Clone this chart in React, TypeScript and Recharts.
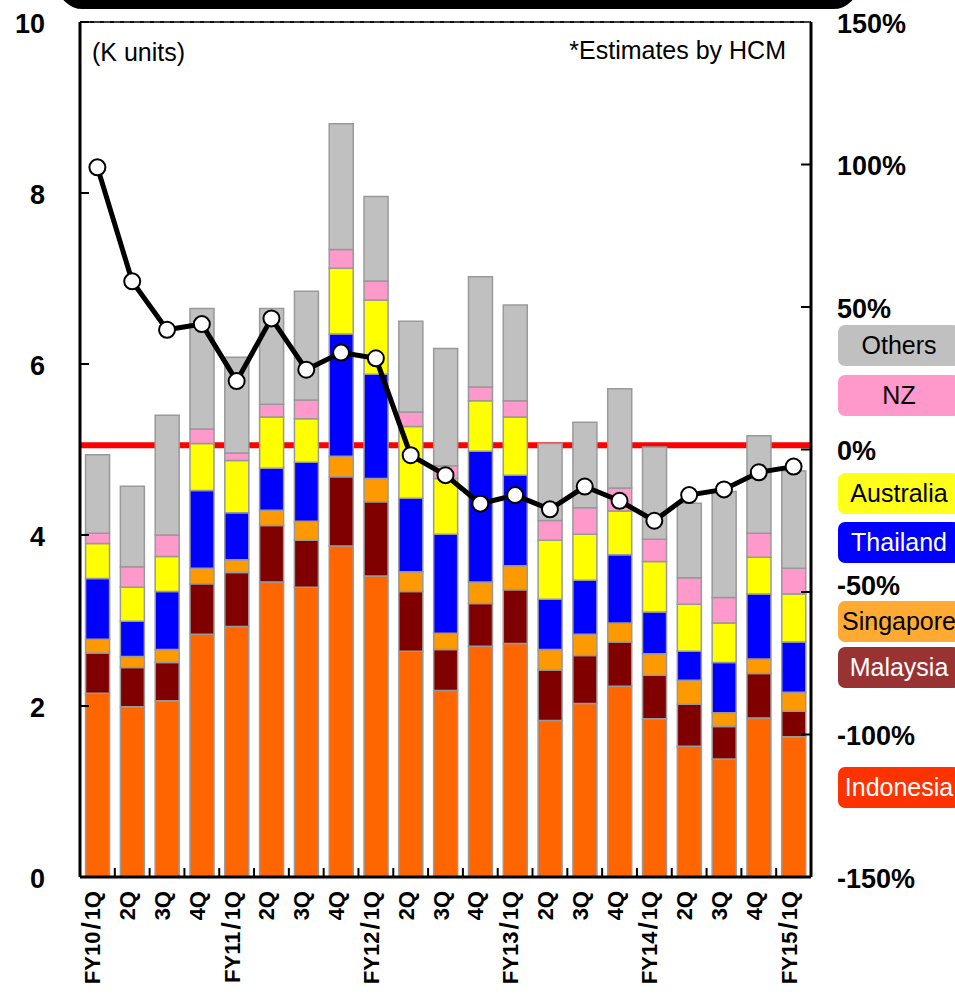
import {
  ComposedChart,
  Bar,
  Line,
  XAxis,
  YAxis,
  CartesianGrid,
  ReferenceLine,
} from 'recharts';

const quarters = [
  'FY10/1Q', '2Q', '3Q', '4Q',
  'FY11/1Q', '2Q', '3Q', '4Q',
  'FY12/1Q', '2Q', '3Q', '4Q',
  'FY13/1Q', '2Q', '3Q', '4Q',
  'FY14/1Q', '2Q', '3Q', '4Q',
  'FY15/1Q',
];

// K units, stacked bottom -> top
const indonesia = [2.15, 1.99, 2.06, 2.84, 2.93, 3.45, 3.39, 3.87, 3.52, 2.64, 2.18, 2.7, 2.73, 1.83, 2.03, 2.23, 1.85, 1.53, 1.38, 1.86, 1.64];
const malaysia = [0.47, 0.46, 0.45, 0.59, 0.63, 0.66, 0.55, 0.81, 0.87, 0.7, 0.48, 0.5, 0.63, 0.59, 0.56, 0.52, 0.51, 0.49, 0.38, 0.52, 0.3];
const singapore = [0.16, 0.13, 0.15, 0.18, 0.15, 0.18, 0.22, 0.24, 0.27, 0.23, 0.19, 0.25, 0.28, 0.24, 0.25, 0.22, 0.25, 0.28, 0.16, 0.17, 0.22];
const thailand = [0.71, 0.41, 0.68, 0.91, 0.55, 0.49, 0.69, 1.43, 1.22, 0.86, 1.16, 1.53, 1.06, 0.59, 0.63, 0.8, 0.49, 0.34, 0.59, 0.76, 0.59];
const australia = [0.41, 0.4, 0.41, 0.55, 0.61, 0.6, 0.51, 0.77, 0.87, 0.84, 0.65, 0.59, 0.68, 0.69, 0.54, 0.51, 0.59, 0.55, 0.46, 0.43, 0.56];
const nz = [0.12, 0.24, 0.25, 0.17, 0.09, 0.15, 0.22, 0.22, 0.22, 0.17, 0.15, 0.16, 0.19, 0.23, 0.31, 0.27, 0.26, 0.31, 0.3, 0.28, 0.3];
const others = [0.92, 0.94, 1.4, 1.41, 1.12, 1.12, 1.27, 1.47, 0.99, 1.06, 1.37, 1.29, 1.12, 0.9, 1.0, 1.16, 1.08, 0.87, 1.24, 1.14, 1.14];

// YoY %, right axis
const growth = [99, 59, 42, 44, 24, 46, 28, 34, 32, -2, -9, -19, -16, -21, -13, -18, -25, -16, -14, -8, -6];

const leftTicks = [0, 2, 4, 6, 8, 10];
const rightTicks = [-150, -100, -50, 0, 50, 100, 150];
const zeroLine = 1.5;

const series = [
  { key: 'indonesia', name: 'Indonesia', fill: '#ff6600', legend: '#ff3300', text: '#fff', values: indonesia },
  { key: 'malaysia', name: 'Malaysia', fill: '#800000', legend: '#993333', text: '#fff', values: malaysia },
  { key: 'singapore', name: 'Singapore', fill: '#ff9900', legend: '#ffab33', text: '#000', values: singapore },
  { key: 'thailand', name: 'Thailand', fill: '#0000ff', legend: '#0000ff', text: '#fff', values: thailand },
  { key: 'australia', name: 'Australia', fill: '#ffff00', legend: '#ffff1a', text: '#000', values: australia },
  { key: 'nz', name: 'NZ', fill: '#ff99cc', legend: '#ff99cc', text: '#000', values: nz },
  { key: 'others', name: 'Others', fill: '#c0c0c0', legend: '#c0c0c0', text: '#000', values: others },
];

const legendTop: Record<string, number> = {
  others: 325,
  nz: 375,
  australia: 473,
  thailand: 522,
  singapore: 601,
  malaysia: 647,
  indonesia: 767,
};

const data = quarters.map((q, i) => {
  const row: Record<string, string | number> = { q, growth: growth[i] };
  series.forEach((s) => {
    row[s.key] = s.values[i];
  });
  return row;
});

const W = 955;
const H = 1007;
const PLOT_LEFT = 80;
const PLOT_RIGHT = 811;
const HALF_BAND = (PLOT_RIGHT - PLOT_LEFT) / quarters.length / 2;
const FONT = '"Liberation Sans", Arial, sans-serif';
const MARGIN = { top: 22, right: 0, bottom: 0, left: 0 };
const layer = { position: 'absolute' as const, left: 0, top: 0 };

function LeftTick({ x, y, payload }: any) {
  return (
    <g>
      <line x1={x} x2={x + 9} y1={y} y2={y} stroke="#000" strokeWidth={2} />
      <text x={x - 35} y={y + 1} dy="0.36em" textAnchor="end" fontSize={27} fontWeight="bold" fontFamily={FONT} fill="#000">
        {payload.value}
      </text>
    </g>
  );
}

function RightTick({ x, y, payload }: any) {
  const edge = Math.abs(payload.value) === 150;
  // the -50% label sits a little higher so the legend box below stays clear
  const shift = payload.value === -50 ? -7 : 1;
  return (
    <g>
      {!edge && <line x1={x - 10} x2={x} y1={y} y2={y} stroke="#000" strokeWidth={2} />}
      <text x={x + 26} y={y + shift} dy="0.36em" textAnchor="start" fontSize={27} fontWeight="bold" fontFamily={FONT} fill="#000">
        {`${payload.value}%`}
      </text>
    </g>
  );
}

function BottomTick({ x, y, payload, index }: any) {
  const label = String(payload.value);
  const cut = label.indexOf('/');
  return (
    <g>
      {index < quarters.length - 1 && (
        <line x1={x + HALF_BAND} x2={x + HALF_BAND} y1={y} y2={y - 9} stroke="#000" strokeWidth={2} />
      )}
      <text
        x={x}
        y={y + 14}
        dy={3}
        transform={`rotate(-90, ${x}, ${y + 14})`}
        textAnchor="end"
        fontSize={22}
        fontWeight="bold"
        fontFamily={FONT}
        fill="#000"
      >
        {cut < 0 ? (
          label
        ) : (
          <>
            <tspan>{label.slice(0, cut)}</tspan>
            <tspan dx={2} fontSize={26}>/</tspan>
            <tspan dx={2}>{label.slice(cut + 1)}</tspan>
          </>
        )}
      </text>
    </g>
  );
}

// grid + red reference line, drawn underneath the bars
function BackLayer() {
  return (
    <div style={layer}>
      <ComposedChart width={W} height={H} data={data} margin={MARGIN}>
        <CartesianGrid vertical={false} yAxisId="left" stroke="#000" strokeWidth={1.5} strokeDasharray="4 6" />
        <XAxis dataKey="q" interval={0} height={130} tick={false} tickLine={false} axisLine={false} />
        <YAxis yAxisId="left" width={80} domain={[0, 10]} ticks={leftTicks} tick={false} tickLine={false} axisLine={false} />
        <YAxis yAxisId="right" orientation="right" width={144} domain={[-150, 150]} ticks={rightTicks} tick={false} tickLine={false} axisLine={false} />
        <Line yAxisId="right" dataKey="growth" stroke="none" dot={false} isAnimationActive={false} />
        <ReferenceLine yAxisId="right" y={zeroLine} stroke="#ff0000" strokeWidth={6} />
      </ComposedChart>
    </div>
  );
}

export default function App() {
  return (
    <div style={{ position: 'absolute', left: 0, top: 0, width: W, height: H, overflow: 'hidden', background: '#fff', fontFamily: FONT }}>
      <div style={{ position: 'absolute', left: 58, top: -40, width: 800, height: 49, background: '#000', borderRadius: 28 }} />
      <BackLayer />
      <div style={layer}>
        <ComposedChart width={W} height={H} data={data} margin={MARGIN} barCategoryGap="16%">
          <XAxis
            dataKey="q"
            interval={0}
            height={130}
            tickSize={0}
            tickMargin={0}
            tickLine={false}
            axisLine={{ stroke: '#000', strokeWidth: 3 }}
            tick={<BottomTick />}
          />
          <YAxis
            yAxisId="left"
            orientation="left"
            width={80}
            domain={[0, 10]}
            ticks={leftTicks}
            tickSize={0}
            tickMargin={0}
            tickLine={false}
            axisLine={{ stroke: '#000', strokeWidth: 3 }}
            tick={<LeftTick />}
          />
          <YAxis
            yAxisId="right"
            orientation="right"
            width={144}
            domain={[-150, 150]}
            ticks={rightTicks}
            tickSize={0}
            tickMargin={0}
            tickLine={false}
            axisLine={{ stroke: '#000', strokeWidth: 3 }}
            tick={<RightTick />}
          />
          {series.map((s) => (
            <Bar
              key={s.key}
              yAxisId="left"
              dataKey={s.key}
              name={s.name}
              stackId="a"
              fill={s.fill}
              stroke="#999999"
              strokeWidth={1.5}
              isAnimationActive={false}
            />
          ))}
          <ReferenceLine yAxisId="left" y={10} stroke="#000" strokeWidth={1.5} />
          <Line
            yAxisId="right"
            dataKey="growth"
            stroke="#000"
            strokeWidth={5}
            dot={{ r: 8, fill: '#fff', stroke: '#000', strokeWidth: 2 }}
            isAnimationActive={false}
          />
        </ComposedChart>
      </div>
      <div style={{ position: 'absolute', left: 92, top: 37, fontSize: 25, color: '#000', lineHeight: '30px' }}>(K units)</div>
      <div style={{ position: 'absolute', right: W - 786, top: 35, fontSize: 25, color: '#000', lineHeight: '30px' }}>*Estimates by HCM</div>
      {series.map((s) => (
        <div
          key={s.key}
          style={{
            position: 'absolute',
            left: 838,
            top: legendTop[s.key],
            width: 122,
            height: 41,
            background: s.legend,
            color: s.text,
            borderRadius: 7,
            fontSize: 25,
            lineHeight: '41px',
            textAlign: 'center',
            whiteSpace: 'nowrap',
          }}
        >
          {s.name}
        </div>
      ))}
    </div>
  );
}
